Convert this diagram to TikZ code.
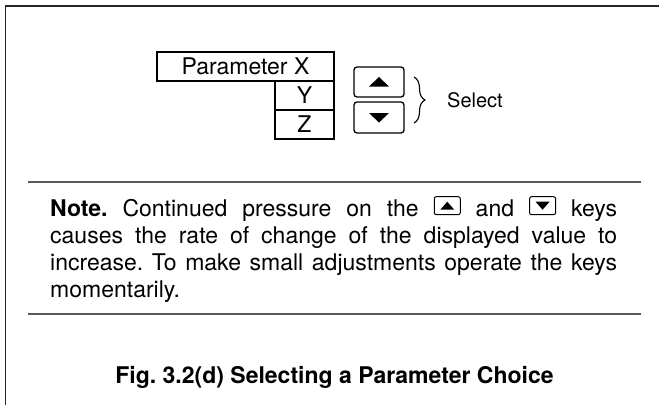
\documentclass[tikz,border=0pt]{standalone}
\usepackage{fontspec}
\setmainfont{TeX Gyre Heros}
\usetikzlibrary{calc, decorations.pathreplacing}
\frenchspacing

\tikzset{
	box/.style = {draw, line width = 1.3pt, minimum height = 29pt, inner sep = 0pt, font = \fontsize{23}{27}\selectfont},
	keybox/.style = {draw, line width = 1.3pt, rounded corners = 3pt, minimum width = 50pt, inner sep = 0pt},
	rule/.style = {line width = 1.6pt, black!65},
	frame/.style = {line width = 1.4pt, black!85}
}

\newcommand{\keyup}{\tikz[baseline = -1.5pt]{\draw[line width = 1pt, rounded corners = 2pt] (0pt,0pt) rectangle (26pt,18pt); \fill (6pt,5pt) -- (20pt,5pt) -- (13pt,13pt) -- cycle;}}
\newcommand{\keydown}{\tikz[baseline = -1.5pt]{\draw[line width = 1pt, rounded corners = 2pt] (0pt,0pt) rectangle (26pt,18pt); \fill (6pt,13pt) -- (20pt,13pt) -- (13pt,5pt) -- cycle;}}

\begin{document}
\begin{tikzpicture}[x = 1pt, y = -1pt]
		\def\xMIN{0};
		\def\xMAX{659};
		\def\yMIN{0};
		\def\yMAX{405};

		\useasboundingbox (\xMIN,\yMIN) rectangle (\xMAX,\yMAX);

		\draw [frame] (\xMAX,6) -- (5.5,6) -- (5.5,\yMAX);

		\node [box, minimum width = 177pt] (parX) at (245.5,66.5) {Parameter X};
		\node [box, minimum width = 59pt] (parY) at (304.5,95.5) {Y};
		\node [box, minimum width = 59pt] (parZ) at (304.5,124.5) {Z};

		\begin{scope}
			\node [keybox, minimum height = 30pt] (keyUp) at (379,82) {};
			\fill ($ (keyUp) + (-10,4.5) $) -- ($ (keyUp) + (10,4.5) $) -- ($ (keyUp) + (0,-5) $) -- cycle;
		\end{scope}

		\begin{scope}
			\node [keybox, minimum height = 31pt] (keyDown) at (379,117.5) {};
			\fill ($ (keyDown) + (-10,-4.5) $) -- ($ (keyDown) + (10,-4.5) $) -- ($ (keyDown) + (0,5) $) -- cycle;
		\end{scope}

		\coordinate (braceTop) at (414,77);
		\coordinate (braceBot) at (414,123);
		\draw [decorate, decoration = {brace, amplitude = 11pt}, line width = 1.1pt] (braceTop) -- (braceBot);
		\node [anchor = west, inner sep = 0pt, font = \fontsize{20}{24}\selectfont] (select) at (447,100) {Select};

		\draw [rule] (28,182) -- (641,182);

		\node [anchor = north west, inner sep = 0pt, text width = 567pt, align = justify, font = \fontsize{23}{27}\selectfont] (note) at (50,196)
			{\textbf{Note.} Continued pressure on the \keyup{} and \keydown{} keys\linebreak causes the rate of change of the displayed value to\linebreak increase. To make small adjustments operate the keys\linebreak momentarily.};

		\draw [rule] (28,314) -- (641,314);

		\node [font = \bfseries\fontsize{23}{27}\selectfont] (caption) at (334.5,377) {Fig. 3.2(d) Selecting a Parameter Choice};
	\end{tikzpicture}
\end{document}
